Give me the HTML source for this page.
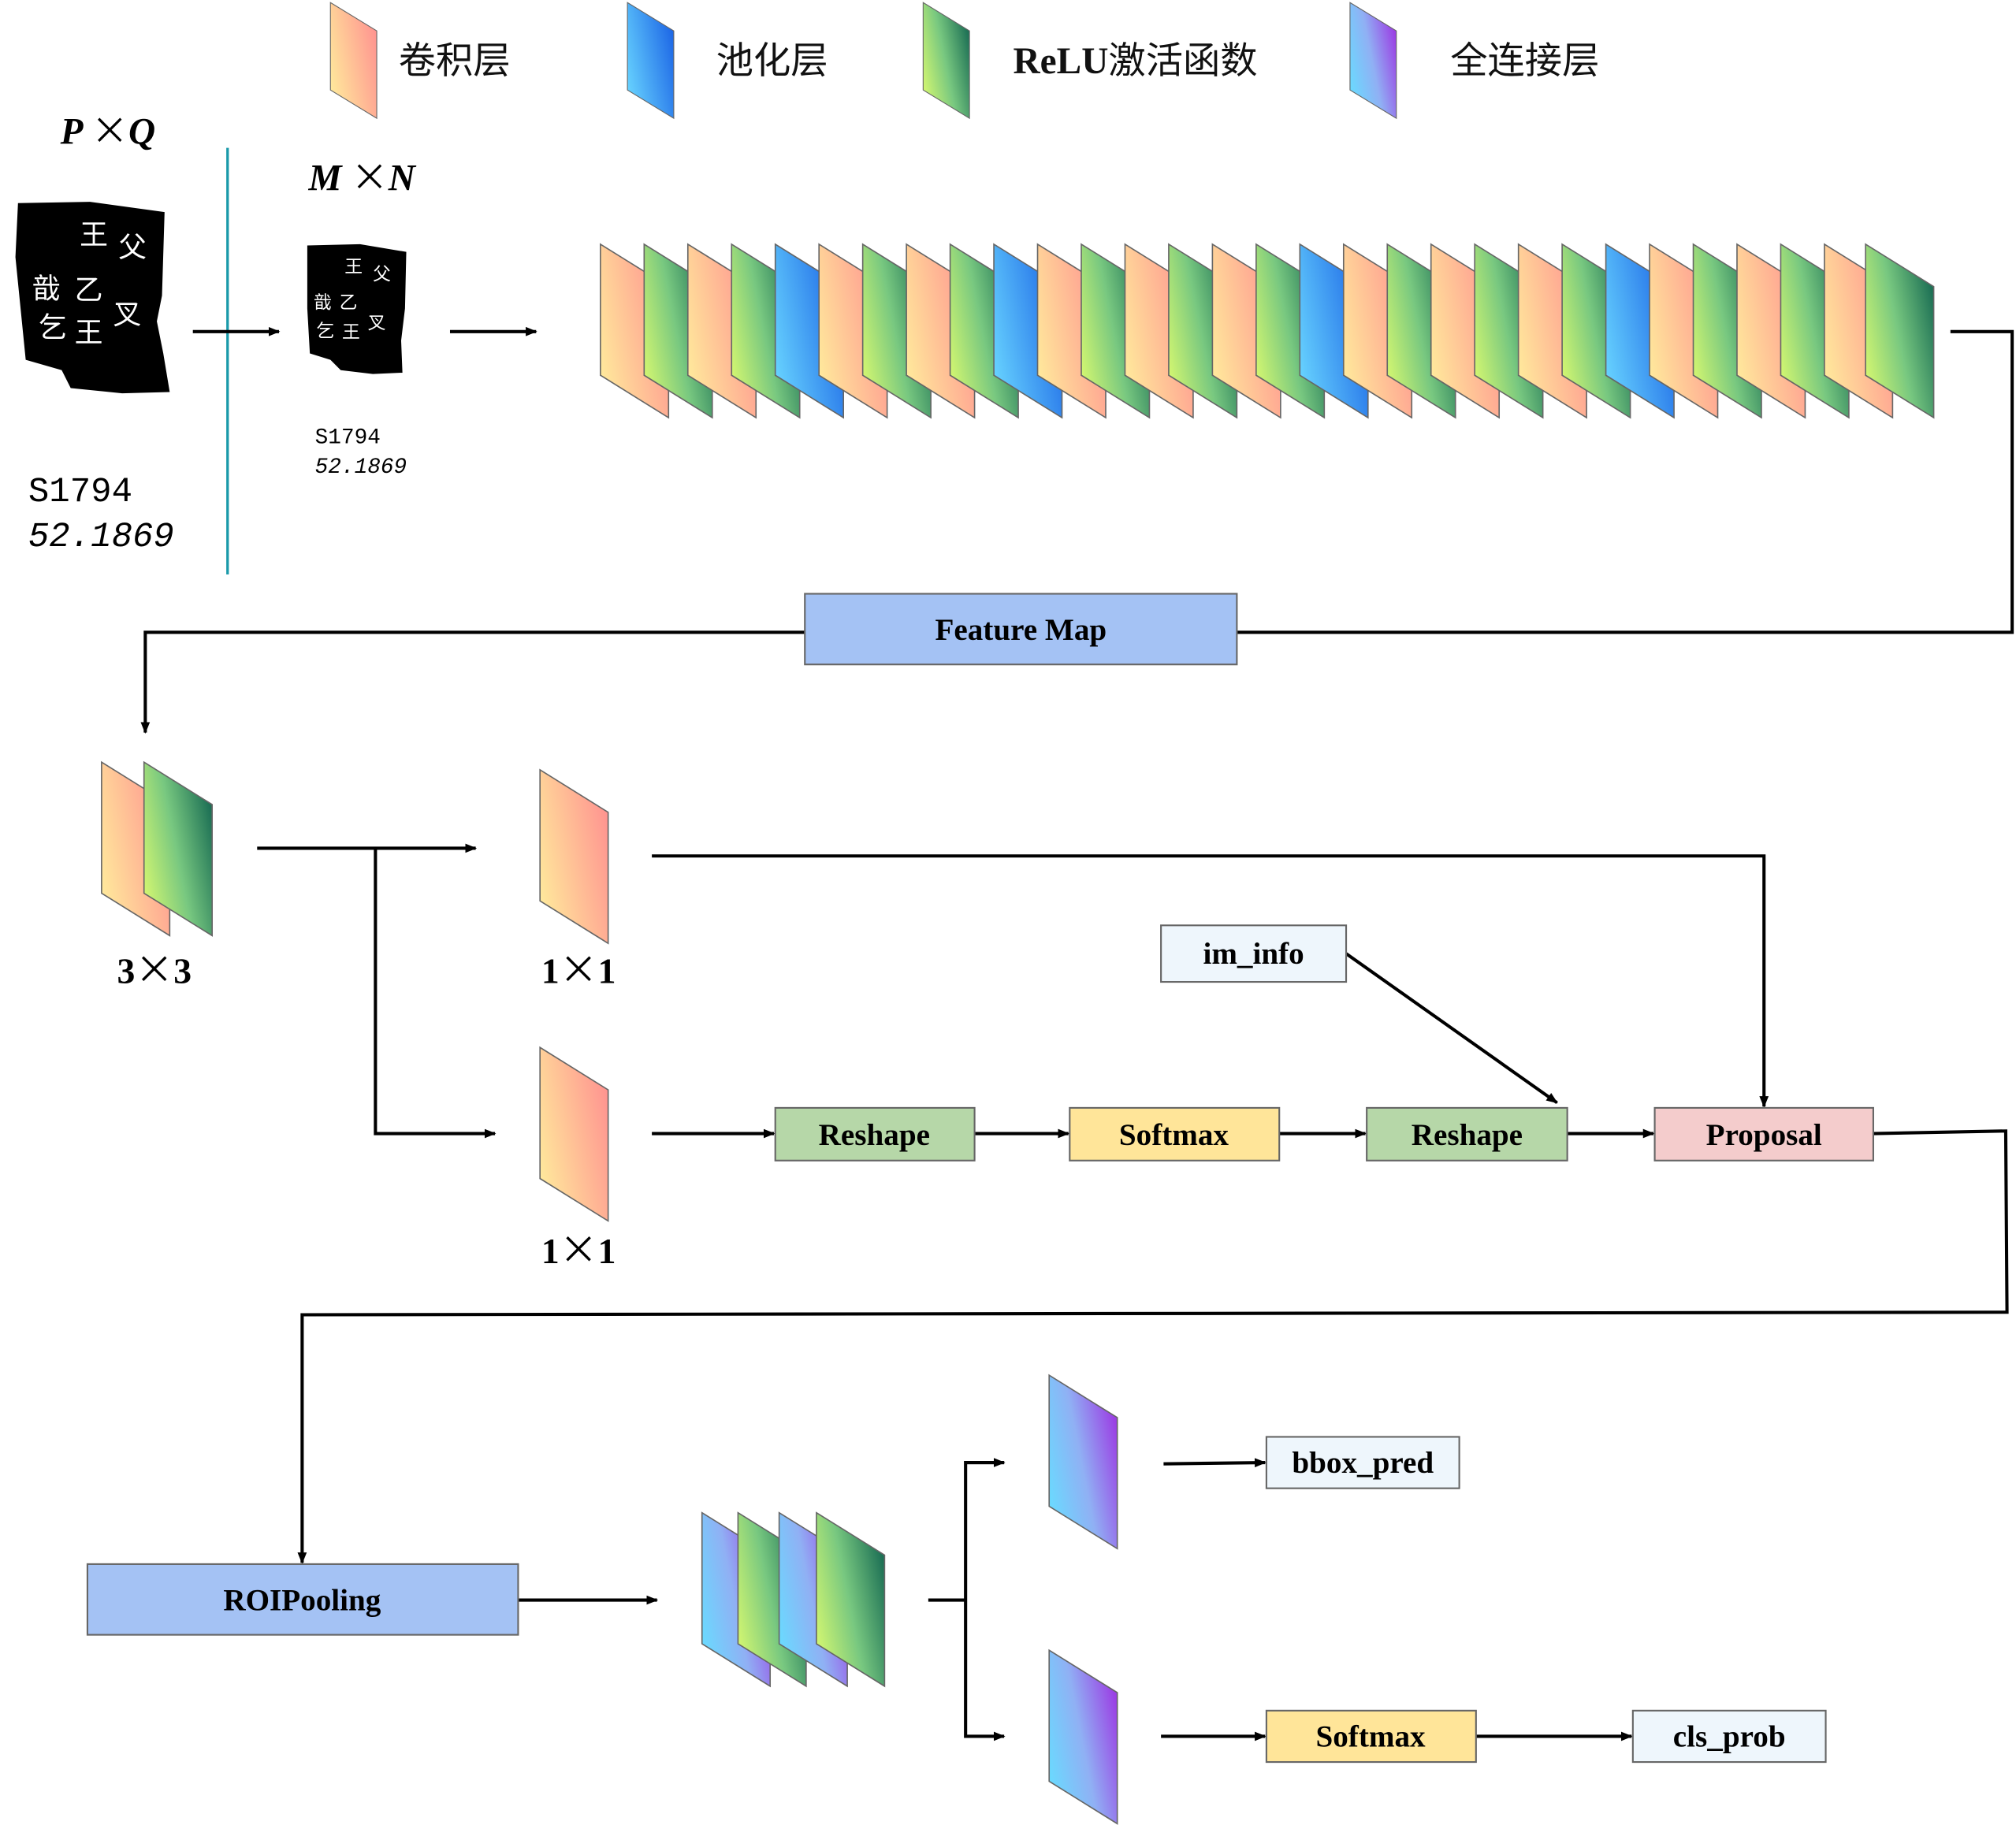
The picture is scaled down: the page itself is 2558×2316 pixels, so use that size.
<!DOCTYPE html>
<html><head><meta charset="utf-8"><style>
html,body{margin:0;padding:0;background:#fff;}
svg{display:block;}
.t{font-family:"Liberation Serif","Noto Serif CJK SC",serif;font-weight:bold;fill:#000;}
.cn{font-family:"Liberation Serif","Noto Sans CJK SC",sans-serif;fill:#111;}
.x{font-family:"Noto Sans CJK SC",sans-serif;font-weight:normal;font-style:normal;}
</style></head><body>
<svg width="2558" height="2316" viewBox="0 0 1568 1420" preserveAspectRatio="none" xmlns="http://www.w3.org/2000/svg">
<defs>
<linearGradient id="gO" x1="0" y1="0.8" x2="1" y2="0.3"><stop offset="0" stop-color="#ffeb9c"/><stop offset="1" stop-color="#ff9590"/></linearGradient>
<linearGradient id="gG" x1="0" y1="0.8" x2="1" y2="0.3"><stop offset="0" stop-color="#d6f870"/><stop offset="0.5" stop-color="#78c880"/><stop offset="1" stop-color="#1d7055"/></linearGradient>
<linearGradient id="gB" x1="0" y1="0.8" x2="1" y2="0.3"><stop offset="0" stop-color="#68d4ff"/><stop offset="1" stop-color="#1e68e6"/></linearGradient>
<linearGradient id="gF" x1="0" y1="0.8" x2="1" y2="0.3"><stop offset="0" stop-color="#68dcff"/><stop offset="0.5" stop-color="#90b0f4"/><stop offset="1" stop-color="#9b3ee4"/></linearGradient>
<path id="pO" d="M0,0 L53,33 L53,135 L0,102 Z" fill="url(#gO)" stroke="#666" stroke-width="1"/>
<path id="pG" d="M0,0 L53,33 L53,135 L0,102 Z" fill="url(#gG)" stroke="#666" stroke-width="1"/>
<path id="pB" d="M0,0 L53,33 L53,135 L0,102 Z" fill="url(#gB)" stroke="#666" stroke-width="1"/>
<path id="pF" d="M0,0 L53,33 L53,135 L0,102 Z" fill="url(#gF)" stroke="#666" stroke-width="1"/>
<marker id="ar" viewBox="0 0 10 10" refX="9" refY="5" markerWidth="9" markerHeight="9" markerUnits="userSpaceOnUse" orient="auto"><path d="M0,1 L10,5 L0,9 Z" fill="#000"/></marker>
</defs>

<g transform="translate(257,2) scale(0.68,0.667)"><use href="#pO"/></g>
<text class="cn" x="310" y="57" font-size="29">卷积层</text>
<g transform="translate(488,2) scale(0.68,0.667)"><use href="#pB"/></g>
<text class="cn" x="557" y="57" font-size="29">池化层</text>
<g transform="translate(718,2) scale(0.68,0.667)"><use href="#pG"/></g>
<text class="cn" x="788" y="57" font-size="29"><tspan font-weight="bold">ReLU</tspan>激活函数</text>
<g transform="translate(1050,2) scale(0.68,0.667)"><use href="#pF"/></g>
<text class="cn" x="1128" y="57" font-size="29">全连接层</text>

<text class="t" x="47" y="112" font-size="29" font-style="italic">P <tspan class="x">×</tspan>Q</text>
<path d="M14,158 L70,157 L128,165 L126,230 L122,250 L127,275 L132,305 L95,306 L55,302 L48,288 L20,280 L16,240 L12,200 Z" fill="#000"/>
<g font-family="Noto Sans CJK SC,sans-serif" fill="#fff" font-size="22">
<text x="62" y="190">王</text><text x="92" y="200">父</text>
<text x="25" y="232">戠</text><text x="58" y="233">乙</text>
<text x="30" y="262">乞</text><text x="58" y="266">王</text><text x="88" y="252">叉</text>
</g>
<text x="22" y="390" font-family="Liberation Mono,monospace" font-size="27">S1794</text>
<text x="22" y="425" font-family="Liberation Mono,monospace" font-size="27" font-style="italic">52.1869</text>
<line x1="177" y1="115" x2="177" y2="447" stroke="#1a9aaa" stroke-width="2"/>
<text class="t" x="240" y="148" font-size="29" font-style="italic">M <tspan class="x">×</tspan>N</text>
<path d="M239,191 L280,190 L316,196 L315,240 L312,265 L313,290 L290,291 L265,288 L257,280 L241,275 L239,240 Z" fill="#000"/>
<g font-family="Noto Sans CJK SC,sans-serif" fill="#fff" font-size="14">
<text x="268" y="212">王</text><text x="290" y="218">父</text>
<text x="244" y="240">戠</text><text x="264" y="240">乙</text>
<text x="246" y="262">乞</text><text x="266" y="263">王</text><text x="286" y="256">叉</text>
</g>
<text x="245" y="345" font-family="Liberation Mono,monospace" font-size="17">S1794</text>
<text x="245" y="368" font-family="Liberation Mono,monospace" font-size="17" font-style="italic">52.1869</text>

<g stroke="#000" stroke-width="2.5" fill="none">
<line x1="150" y1="258" x2="217" y2="258" marker-end="url(#ar)"/>
<line x1="350" y1="258" x2="417" y2="258" marker-end="url(#ar)"/>
</g>

<g transform="translate(0,190)">
<use href="#pO" x="467"/><use href="#pG" x="501"/><use href="#pO" x="535"/><use href="#pG" x="569"/><use href="#pB" x="603"/>
<use href="#pO" x="637"/><use href="#pG" x="671"/><use href="#pO" x="705"/><use href="#pG" x="739"/><use href="#pB" x="773"/>
<use href="#pO" x="807"/><use href="#pG" x="841"/><use href="#pO" x="875"/><use href="#pG" x="909"/><use href="#pO" x="943"/>
<use href="#pG" x="977"/><use href="#pB" x="1011"/><use href="#pO" x="1045"/><use href="#pG" x="1079"/><use href="#pO" x="1113"/>
<use href="#pG" x="1147"/><use href="#pO" x="1181"/><use href="#pG" x="1215"/><use href="#pB" x="1249"/><use href="#pO" x="1283"/>
<use href="#pG" x="1317"/><use href="#pO" x="1351"/><use href="#pG" x="1385"/><use href="#pO" x="1419"/><use href="#pG" x="1451"/>
</g>

<g stroke="#000" stroke-width="2.5" fill="none">
<polyline points="1517,258 1565,258 1565,492 962,492"/>
<polyline points="626,492 113,492 113,570" marker-end="url(#ar)"/>
<line x1="200" y1="660" x2="370" y2="660" marker-end="url(#ar)"/>
<polyline points="292,660 292,882 385,882" marker-end="url(#ar)"/>
<polyline points="507,666 1372,666 1372,861" marker-end="url(#ar)"/>
<line x1="507" y1="882" x2="602" y2="882" marker-end="url(#ar)"/>
<line x1="758" y1="882" x2="831" y2="882" marker-end="url(#ar)"/>
<line x1="995" y1="882" x2="1062" y2="882" marker-end="url(#ar)"/>
<line x1="1219" y1="882" x2="1286" y2="882" marker-end="url(#ar)"/>
<line x1="1047" y1="742" x2="1211" y2="858" marker-end="url(#ar)"/>
<polyline points="1457,882 1560,880 1561,1021 235,1023 235,1216" marker-end="url(#ar)"/>
<line x1="403" y1="1245" x2="511" y2="1245" marker-end="url(#ar)"/>
<line x1="722" y1="1245" x2="751" y2="1245"/>
<polyline points="781,1138 751,1138 751,1351 781,1351" marker-end="url(#ar)"/>
<line x1="751" y1="1138" x2="781" y2="1138" marker-end="url(#ar)"/>
<line x1="905" y1="1139" x2="984" y2="1138" marker-end="url(#ar)"/>
<line x1="903" y1="1351" x2="984" y2="1351" marker-end="url(#ar)"/>
<line x1="1148" y1="1351" x2="1269" y2="1351" marker-end="url(#ar)"/>
</g>

<g stroke="#666" stroke-width="1.3">
<rect x="626" y="462" width="336" height="55" fill="#a4c2f4"/>
<rect x="603" y="862" width="155" height="41" fill="#b6d7a8"/>
<rect x="832" y="862" width="163" height="41" fill="#ffe599"/>
<rect x="1063" y="862" width="156" height="41" fill="#b6d7a8"/>
<rect x="1287" y="862" width="170" height="41" fill="#f4cccc"/>
<rect x="903" y="720" width="144" height="44" fill="#eef6fc"/>
<rect x="68" y="1217" width="335" height="55" fill="#a4c2f4"/>
<rect x="985" y="1118" width="150" height="40" fill="#eef6fc"/>
<rect x="985" y="1331" width="163" height="40" fill="#ffe599"/>
<rect x="1270" y="1331" width="150" height="40" fill="#eef6fc"/>
</g>
<g class="t" font-size="24" text-anchor="middle">
<text x="794" y="498">Feature Map</text>
<text x="680" y="891">Reshape</text>
<text x="913" y="891">Softmax</text>
<text x="1141" y="891">Reshape</text>
<text x="1372" y="891">Proposal</text>
<text x="975" y="750">im_info</text>
<text x="235" y="1253">ROIPooling</text>
<text x="1060" y="1146">bbox_pred</text>
<text x="1066" y="1359">Softmax</text>
<text x="1345" y="1359">cls_prob</text>
</g>

<use href="#pO" x="79" y="593"/><use href="#pG" x="112" y="593"/>
<text class="t" x="120" y="765" font-size="28" text-anchor="middle">3<tspan class="x" font-size="30">×</tspan>3</text>
<use href="#pO" x="420" y="599"/>
<text class="t" x="450" y="765" font-size="28" text-anchor="middle">1<tspan class="x" font-size="30">×</tspan>1</text>
<use href="#pO" x="420" y="815"/>
<text class="t" x="450" y="983" font-size="28" text-anchor="middle">1<tspan class="x" font-size="30">×</tspan>1</text>

<use href="#pF" x="546" y="1177"/><use href="#pG" x="574" y="1177"/><use href="#pF" x="606" y="1177"/><use href="#pG" x="635" y="1177"/>
<use href="#pF" x="816" y="1070"/>
<use href="#pF" x="816" y="1284"/>
</svg>
</body></html>
